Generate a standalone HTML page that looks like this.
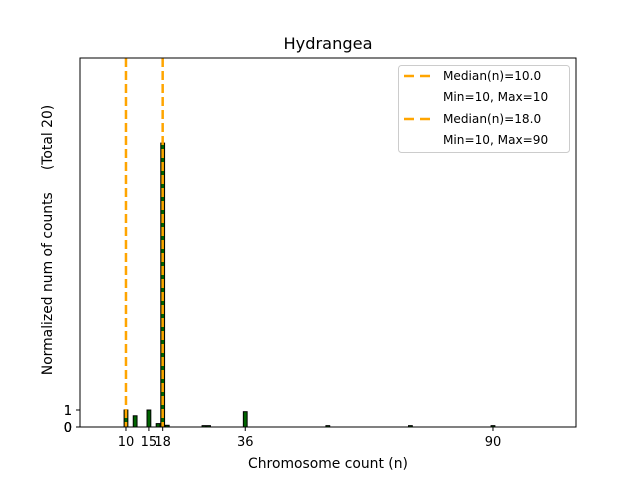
<!DOCTYPE html>
<html><head><meta charset="utf-8"><style>
body{margin:0;background:#fff}
svg text{font-family:"DejaVu Sans","Liberation Sans",sans-serif;fill:#000}
</style></head><body>
<svg id="chart" width="640" height="480" viewBox="0 0 640 480" xmlns="http://www.w3.org/2000/svg">
<rect width="640" height="480" fill="#fff"/>
<text x="328" y="49" font-size="16.2" text-anchor="middle">Hydrangea</text>
<g id="bars"></g>
<g id="medians"></g>
<rect x="80" y="58" width="496" height="369" fill="none" stroke="#000" stroke-width="1"/>
<g id="xticks"></g>
<g id="yticks"></g>
<text x="328" y="468" font-size="13.9" text-anchor="middle">Chromosome count (n)</text>
<text transform="translate(52,240) rotate(-90)" font-size="13.9" text-anchor="middle" xml:space="preserve">Normalized num of counts     (Total 20)</text>
<g>
<rect x="398.5" y="65.5" width="171" height="87" rx="3" fill="#fff" fill-opacity="0.8" stroke="#ccc"/>
<line x1="404" y1="76" x2="432" y2="76" stroke="#ffa500" stroke-width="2.5" stroke-dasharray="10,6"/>
<text x="443" y="80" font-size="12.1">Median(n)=10.0</text>
<text x="443" y="101" font-size="12.1">Min=10, Max=10</text>
<line x1="404" y1="119" x2="432" y2="119" stroke="#ffa500" stroke-width="2.5" stroke-dasharray="10,6"/>
<text x="443" y="123" font-size="12.1">Median(n)=18.0</text>
<text x="443" y="144" font-size="12.1">Min=10, Max=90</text>
</g>
</svg>
<script>
const counts = [10, 12, 15, 17, 18, 19, 27, 28, 36, 54, 72, 90];
const values = [1.0, 0.66, 1.0, 0.2, 16.7, 0.1, 0.08, 0.08, 0.9, 0.08, 0.08, 0.08];
const medians = [10, 18];
const xTickValues = [10, 15, 18, 36, 90];
const yTickValues = [0, 0, 0, 1, 1];
const NS = 'http://www.w3.org/2000/svg';
const x = v => 80.1 + v * 4.5875;
const y = v => 427 - v * 17;
function mk(tag, attrs, parent){const e=document.createElementNS(NS,tag);for(const k in attrs)e.setAttribute(k,attrs[k]);parent.appendChild(e);return e;}
const bars=document.getElementById('bars');
counts.forEach((c,i)=>{
  const w=3.8, top=y(values[i]);
  const r=mk('rect',{x:x(c)-w/2,y:top,width:w,height:427-top,fill:'#006400',stroke:'#000','stroke-width':1},bars);
  
  
});
const med=document.getElementById('medians');
medians.forEach(m=>{
  const l=mk('line',{x1:x(m),x2:x(m),y1:58,y2:427,stroke:'#ffa500','stroke-width':2.5,'stroke-dasharray':'9,4'},med);
  
  
});
const xt=document.getElementById('xticks');
xTickValues.forEach(v=>{
  const t=mk('line',{x1:x(v),x2:x(v),y1:427,y2:431,stroke:'#000'},xt);
  
  
  const tx=mk('text',{x:x(v),y:446,'font-size':13,'text-anchor':'middle'},xt);
  tx.textContent=v;
  
  
});
const yt=document.getElementById('yticks');
yTickValues.forEach(v=>{
  const t=mk('line',{x1:76,x2:80,y1:y(v),y2:y(v),stroke:'#000'},yt);
  
  
  const tx=mk('text',{x:72,y:y(v)+5,'font-size':13,'text-anchor':'end'},yt);
  tx.textContent=v;
  
  
});
</script>
</body></html>
